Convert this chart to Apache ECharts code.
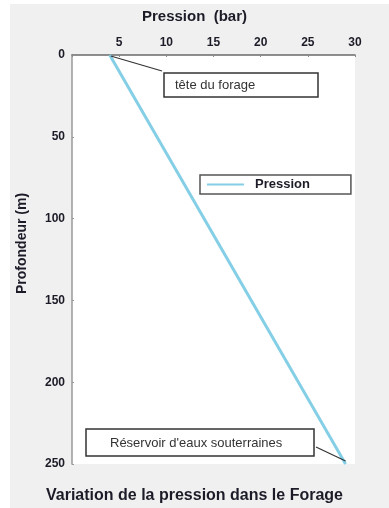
<!DOCTYPE html>
<html>
<head>
<meta charset="utf-8">
<script src="https://cdn.jsdelivr.net/npm/echarts@6/dist/echarts.min.js"></script>
<style>
html,body{margin:0;padding:0;background:#fff;width:389px;height:508px;overflow:hidden;}
#bg{position:absolute;left:10px;top:4px;right:0;bottom:0;background:#f0f0f0;}
#chart{position:absolute;left:0;top:0;width:389px;height:508px;}
</style>
</head>
<body>
<div id="bg"></div>
<div id="chart"></div>
<script>
// Data
var pressionBar = [4, 29];      // pression (bar)
var profondeurM = [0, 250];     // profondeur (m)
var xTicks = [0, 5, 10, 15, 20, 25, 30];
var yTicks = [0, 50, 100, 150, 200, 250];
var seriesName = 'Pression';
var topLabel = 'tête du forage';
var bottomLabel = "Réservoir d'eaux souterraines";

var lineData = pressionBar.map(function (p, i) { return [p, profondeurM[i]]; });
var FONT = 'Liberation Sans, Arial, sans-serif';
var TXT = '#1c1c28';

var chart = echarts.init(document.getElementById('chart'), null, {renderer: 'canvas'});
var titles = [
  {type: 'text', left: 'center', top: 9, style: {text: 'Pression  (bar)', fill: TXT, font: 'bold 15px ' + FONT}},
  {type: 'text', left: 'center', top: 488, style: {text: 'Variation de la pression dans le Forage', fill: TXT, font: 'bold 16px ' + FONT}},
  {type: 'text', x: 15, y: 294, rotation: Math.PI / 2, style: {text: 'Profondeur (m)', fill: TXT, font: 'bold 14px ' + FONT}}
];
var option = {
  backgroundColor: 'transparent',
  animation: false,
  textStyle: {fontFamily: FONT},
  grid: {left: 72, top: 55, width: 283, height: 409, show: true, backgroundColor: '#ffffff', borderWidth: 0},
  xAxis: {
    type: 'value', position: 'top',
    min: xTicks[0], max: xTicks[xTicks.length - 1], interval: 5,
    splitLine: {show: false},
    axisLine: {show: true, lineStyle: {color: '#6a6a6a', width: 1.5}},
    axisTick: {show: true, inside: true, length: 2, lineStyle: {color: '#888'}},
    axisLabel: {
      color: TXT, fontWeight: 'bold', fontSize: 12, fontFamily: FONT, margin: 6,
      formatter: function (v) { return v === 0 ? '' : String(v); }
    }
  },
  yAxis: {
    type: 'value', inverse: true,
    min: yTicks[0], max: yTicks[yTicks.length - 1], interval: 50,
    splitLine: {show: false},
    axisLine: {show: true, lineStyle: {color: '#9a9a9a', width: 1.5}},
    axisTick: {show: true, inside: true, length: 2, lineStyle: {color: '#999'}},
    axisLabel: {color: TXT, fontWeight: 'bold', fontSize: 12, fontFamily: FONT, margin: 7}
  },
  legend: {
    left: 200, top: 175,
    data: [seriesName],
    itemWidth: 37, itemHeight: 10, itemGap: 0,
    padding: [3, 41, 3, 7],
    borderColor: '#555', borderWidth: 1.5, borderRadius: 0,
    backgroundColor: '#fff',
    textStyle: {color: TXT, fontWeight: 'bold', fontSize: 13, fontFamily: FONT, padding: [0, 0, 0, 6]},
    icon: 'path://M0,4L37,4L37,6L0,6Z'
  },
  series: [{
    name: seriesName, type: 'line', data: lineData,
    showSymbol: false, symbol: 'none',
    lineStyle: {color: '#84cfe6', width: 3},
    itemStyle: {color: '#84cfe6'}
  }],
  graphic: titles
};
chart.setOption(option);

// Annotations anchored on data points
var pTop = chart.convertToPixel({gridIndex: 0}, lineData[0]);
var pBot = chart.convertToPixel({gridIndex: 0}, lineData[1]);
chart.setOption({
  graphic: titles.concat([
    {type: 'line', z: 10, shape: {x1: pTop[0] + 1, y1: pTop[1] + 1, x2: 162, y2: 71}, style: {stroke: '#333', lineWidth: 1.2}},
    {type: 'rect', z: 10, shape: {x: 164, y: 73, width: 154, height: 24}, style: {fill: '#fff', stroke: '#333', lineWidth: 1.5}},
    {type: 'text', z: 11, x: 175, y: 79, style: {text: topLabel, fill: '#333', font: '13px ' + FONT}},
    {type: 'line', z: 10, shape: {x1: 316, y1: 447, x2: pBot[0], y2: pBot[1] - 3}, style: {stroke: '#333', lineWidth: 1.2}},
    {type: 'rect', z: 10, shape: {x: 86, y: 429, width: 228, height: 27}, style: {fill: '#fff', stroke: '#333', lineWidth: 1.5}},
    {type: 'text', z: 11, x: 110, y: 437, style: {text: bottomLabel, fill: '#333', font: '13px ' + FONT}}
  ])
}, {replaceMerge: ['graphic']});
</script>
</body>
</html>
